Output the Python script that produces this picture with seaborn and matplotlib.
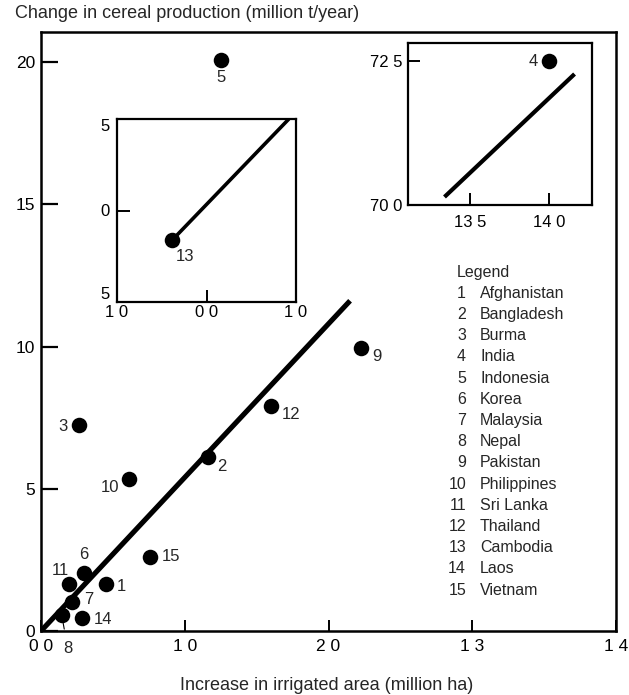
import numpy as np
import pandas as pd
import matplotlib
matplotlib.use("Agg")
import matplotlib.pyplot as plt
import seaborn as sns

# ---------------- data ----------------
country_ids = [1, 2, 3, 5, 6, 7, 8, 9, 10, 11, 12, 14, 15]
irrigated_increase = [0.453, 1.159, 0.267, 1.25, 0.300, 0.214, 0.144, 2.228, 0.613, 0.193, 1.603, 0.286, 0.755]
cereal_change = [1.65, 6.11, 7.26, 20.07, 2.05, 1.03, 0.56, 9.94, 5.35, 1.65, 7.91, 0.45, 2.61]

legend_ids = list(range(1, 16))
legend_names = ["Afghanistan", "Bangladesh", "Burma", "India", "Indonesia", "Korea",
                "Malaysia", "Nepal", "Pakistan", "Philippines", "Sri Lanka", "Thailand",
                "Cambodia", "Laos", "Vietnam"]

# regression line (main panel)
reg_x = [0.0, 2.15]
reg_slope = 5.40

# Cambodia inset
cambodia_x = [-0.38]
cambodia_y = [-1.60]
cambodia_fit_x = [-0.38, 0.92]
cambodia_fit_y = [-1.60, 5.0]

# India inset
india_x = [14.0]
india_y = [72.5]
india_fit_x = [13.34, 14.16]
india_fit_y = [70.14, 72.28]

# tick labels (as printed)
main_xticks = [0, 1, 2, 3, 4]
main_xticklabels = ["0 0", "1 0", "2 0", "1 3", "1 4"]
main_yticks = [0, 5, 10, 15, 20]
main_yticklabels = ["0", "5", "10", "15", "20"]
cam_xticks = [-1, 0, 1]
cam_xticklabels = ["1 0", "0 0", "1 0"]
cam_yticks = [-5, 0, 5]
cam_yticklabels = ["5", "0", "5"]
ind_xticks = [13.5, 14.0]
ind_xticklabels = ["13 5", "14 0"]
ind_yticks = [70.0, 72.5]
ind_yticklabels = ["70 0", "72 5"]

# label offsets in pixels (dx, dy) for point numbers
label_offsets = {1: (15, -2), 2: (14, -9), 3: (-16, -2), 5: (0, -17), 6: (0, 18),
                 7: (17, 2), 9: (16, -8), 10: (-19, -9), 11: (-8, 14), 12: (20, -8),
                 14: (21, -1), 15: (21, 0)}

# ---------------- style ----------------
sns.set_theme(style="white")
plt.rcParams["font.family"] = ["Liberation Sans", "DejaVu Sans"]
plt.rcParams["font.size"] = 12

W, H = 629, 695
fig = plt.figure(figsize=(W / 100, H / 100), dpi=100)
fig.patch.set_facecolor("white")

def fx(px):
    return px / W

def fy(py):
    return 1 - py / H

# main axes
ax = fig.add_axes([fx(41), fy(631), fx(616) - fx(41), fy(31.7) - fy(631)])
df = pd.DataFrame({"id": country_ids, "x": irrigated_increase, "y": cereal_change})

line_x = np.array(reg_x)
sns.lineplot(x=line_x, y=reg_slope * line_x, ax=ax, color="black", linewidth=3.7,
             solid_capstyle="butt")
sns.scatterplot(data=df, x="x", y="y", ax=ax, color="black", s=125, linewidth=0,
                legend=False, zorder=5)

for cid, xv, yv in zip(country_ids, irrigated_increase, cereal_change):
    if cid in label_offsets:
        dx, dy = label_offsets[cid]
        ax.annotate(str(cid), (xv, yv), xytext=(dx, dy), textcoords="offset pixels",
                    ha="center", va="center", fontsize=12)
# Nepal label with leader line
ax.annotate("8", (irrigated_increase[6], cereal_change[6]), xytext=(6, -33),
            textcoords="offset pixels", ha="center", va="center", fontsize=12,
            annotation_clip=False,
            arrowprops=dict(arrowstyle="-", color="black", lw=0.8, shrinkA=6, shrinkB=6))

ax.set_xlim(0, 4)
ax.set_ylim(0, 21.07)
ax.set_xticks(main_xticks)
ax.set_xticklabels(main_xticklabels)
ax.set_yticks(main_yticks)
ax.set_yticklabels(main_yticklabels)
ax.tick_params(axis="y", direction="in", length=12, width=1.6, pad=4, labelsize=12.5,
               left=True, colors="black")
ax.tick_params(axis="x", direction="in", length=8, width=1.4, pad=6, labelsize=12.5,
               bottom=True, colors="black")
ax.set_xlabel("")
ax.set_ylabel("")
for sp in ax.spines.values():
    sp.set_linewidth(1.8)
    sp.set_color("black")

fig.text(fx(15), fy(13), "Change in cereal production (million t/year)", ha="left",
         va="center", fontsize=13)
fig.text(fx(327), fy(685), "Increase in irrigated area (million ha)", ha="center",
         va="center", fontsize=13)

# legend text block
fig.text(fx(457), fy(273), "Legend", ha="left", va="center", fontsize=11.5)
for i, (nid, name) in enumerate(zip(legend_ids, legend_names)):
    ypx = 293.3 + i * 21.2
    fig.text(fx(466), fy(ypx), str(nid), ha="right", va="center", fontsize=11.5)
    fig.text(fx(480), fy(ypx), name, ha="left", va="center", fontsize=11.5)

# Cambodia inset
ax1 = fig.add_axes([fx(117), fy(302), fx(296) - fx(117), fy(119) - fy(302)])
ax1.set_facecolor("white")
sns.lineplot(x=cambodia_fit_x, y=cambodia_fit_y, ax=ax1, color="black", linewidth=2.6,
             solid_capstyle="butt")
sns.scatterplot(x=cambodia_x, y=cambodia_y, ax=ax1, color="black", s=125, linewidth=0,
                legend=False, zorder=5)
ax1.annotate("13", (cambodia_x[0], cambodia_y[0]), xytext=(13, -17),
             textcoords="offset pixels", ha="center", va="center", fontsize=12)
ax1.set_xlim(-1, 1)
ax1.set_ylim(-5, 5)
ax1.set_xticks(cam_xticks)
ax1.set_xticklabels(cam_xticklabels)
ax1.set_yticks(cam_yticks)
ax1.set_yticklabels(cam_yticklabels)
ax1.tick_params(axis="y", direction="in", length=9, width=1.4, pad=5, labelsize=12,
                left=True, colors="black")
ax1.tick_params(axis="x", direction="in", length=9, width=1.4, pad=2.5, labelsize=12,
                bottom=True, colors="black")
ylabs = ax1.get_yticklabels()
ylabs[0].set_verticalalignment("bottom")
ylabs[-1].set_verticalalignment("top")
for sp in ax1.spines.values():
    sp.set_linewidth(1.6)
    sp.set_color("black")

# India inset
ax2 = fig.add_axes([fx(408), fy(205), fx(592) - fx(408), fy(43) - fy(205)])
ax2.set_facecolor("white")
sns.lineplot(x=india_fit_x, y=india_fit_y, ax=ax2, color="black", linewidth=3.0,
             solid_capstyle="butt")
sns.scatterplot(x=india_x, y=india_y, ax=ax2, color="black", s=125, linewidth=0,
                legend=False, zorder=5)
ax2.annotate("4", (india_x[0], india_y[0]), xytext=(-16, 0),
             textcoords="offset pixels", ha="center", va="center", fontsize=12)
ax2.set_xlim(13.11, 14.27)
ax2.set_ylim(70.0, 72.82)
ax2.set_xticks(ind_xticks)
ax2.set_xticklabels(ind_xticklabels)
ax2.set_yticks(ind_yticks)
ax2.set_yticklabels(ind_yticklabels)
ax2.tick_params(axis="y", direction="in", length=8.5, width=1.4, pad=4, labelsize=12,
                left=True, colors="black")
ax2.tick_params(axis="x", direction="in", length=8.5, width=1.4, pad=7, labelsize=12,
                bottom=True, colors="black")
for sp in ax2.spines.values():
    sp.set_linewidth(1.6)
    sp.set_color("black")

fig.savefig("out.png", dpi=100, facecolor="white")
